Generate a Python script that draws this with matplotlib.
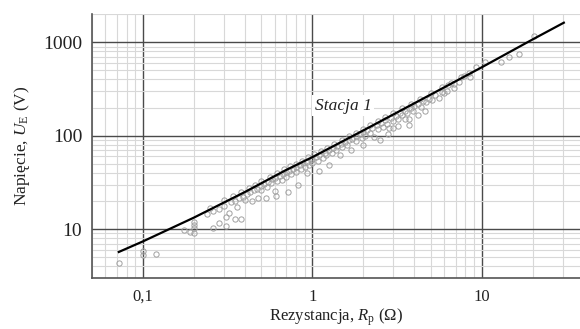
import matplotlib
matplotlib.use("Agg")
import matplotlib.pyplot as plt
from matplotlib.ticker import FixedLocator, FixedFormatter, LogLocator, NullFormatter

plt.rcParams['font.family'] = ['Liberation Serif', 'DejaVu Serif']
plt.rcParams['mathtext.fontset'] = 'custom'
plt.rcParams['mathtext.rm'] = 'Liberation Serif'
plt.rcParams['mathtext.it'] = 'Liberation Serif:italic'

# fitted line
line_r = [0.072, 0.1, 0.2, 0.4, 0.7, 1, 2, 5, 10, 20, 30.5]
line_u = [5.7, 7.4, 13.3, 25, 43, 59, 114, 276, 540, 1075, 1620]

# measurements (grey circles)
meas_r = [0.072, 0.1, 0.1, 0.12,
          0.175, 0.19, 0.2, 0.2, 0.2, 0.2,
          0.24, 0.26, 0.26, 0.28, 0.28, 0.3, 0.31, 0.31, 0.32, 0.33,
          0.35, 0.35, 0.36, 0.37, 0.38, 0.39, 0.4, 0.41,
          0.43, 0.44, 0.45, 0.47, 0.48, 0.5, 0.5, 0.52, 0.53, 0.54,
          0.55, 0.57, 0.58, 0.6, 0.6, 0.61, 0.62,
          0.64, 0.66, 0.67, 0.7, 0.7, 0.72, 0.73, 0.75, 0.77, 0.8,
          0.8, 0.82, 0.84, 0.86, 0.88, 0.9, 0.93, 0.93, 0.95, 0.98,
          1.0, 1.0,
          1.05, 1.08, 1.1, 1.1, 1.15, 1.18, 1.2, 1.25, 1.25, 1.3,
          1.33, 1.38, 1.4, 1.45, 1.48, 1.5, 1.55, 1.6, 1.65, 1.7,
          1.72, 1.8, 1.82, 1.9, 1.95, 2.0, 2.0,
          2.05, 2.1, 2.2, 2.25, 2.3, 2.4, 2.45, 2.5, 2.55, 2.6,
          2.7, 2.75, 2.8, 2.85, 2.9, 3.0, 3.0, 3.1, 3.2, 3.2,
          3.3, 3.4, 3.5, 3.5, 3.6, 3.7, 3.7, 3.8, 3.9, 4.0,
          4.2, 4.2, 4.4, 4.5, 4.6, 4.7, 4.9, 5.1, 5.3,
          5.6, 5.8, 6.0, 6.2, 6.3, 6.9, 6.9, 7.3, 7.9, 8.5,
          9.2, 10.5, 13.0, 14.4, 16.6, 20.4,
          0.25, 0.3, 0.34, 0.38, 0.42, 0.46, 0.5, 0.56, 0.62, 0.68,
          0.74, 0.8, 0.87, 0.94, 1.02, 1.12, 1.22, 1.35, 1.5, 1.65,
          1.8, 2.0, 2.2, 2.45, 2.7, 3.0, 3.4, 3.8, 4.3, 5.0,
          5.8, 6.6, 7.5, 8.4]
meas_u = [4.3, 5.3, 5.8, 5.4,
          9.8, 9.4, 9.0, 10.2, 11.0, 11.8,
          14.5, 10.4, 15.5, 11.7, 16.5, 17.8, 10.8, 13.5, 14.8, 19.5,
          12.8, 20.0, 17.1, 21.5, 12.8, 22.0, 20.5, 23.5,
          25.0, 20.0, 26.5, 27.0, 21.3, 29.0, 26.5, 30.5, 21.3, 28.0,
          32.0, 31.0, 34.0, 25.5, 35.0, 22.5, 33.0,
          37.5, 33.8, 38.5, 40.5, 36.0, 24.8, 42.0, 39.0, 44.5, 46.0,
          41.0, 30.0, 48.0, 44.0, 50.5, 46.5, 40.0, 52.5, 49.0, 55.0,
          56.5, 51.0,
          59.0, 54.0, 42.0, 62.0, 58.0, 66.0, 62.0, 48.0, 70.0, 66.0,
          74.0, 70.0, 78.0, 62.0, 82.0, 76.0, 86.0, 80.0, 90.0, 70.0,
          93.0, 88.0, 99.0, 104.0, 94.0, 80.0, 109.0,
          100.0, 116.0, 108.0, 122.0, 97.0, 130.0, 118.0, 90.0, 138.0, 125.0,
          148.0, 132.0, 105.0, 122.0, 155.0, 145.0, 122.0, 163.0, 127.0, 152.0,
          176.0, 165.0, 150.0, 186.0, 175.0, 131.0, 150.0, 198.0, 182.0, 210.0,
          168.0, 220.0, 205.0, 238.0, 182.0, 230.0, 250.0, 240.0, 270.0,
          255.0, 295.0, 290.0, 300.0, 345.0, 327.0, 355.0, 380.0, 440.0, 430.0,
          540.0, 612.0, 612.0, 690.0, 750.0, 1180.0,
          17.0, 20.3, 22.5, 25.0, 27.5, 30.0, 32.5, 36.0, 39.5, 43.5,
          47.0, 50.0, 54.0, 58.5, 63.0, 69.0, 74.0, 82.0, 90.0, 99.0,
          108.0, 119.0, 130.0, 144.0, 160.0, 176.0, 198.0, 220.0, 248.0, 285.0,
          330.0, 370.0, 420.0, 470.0]

x_ticks = [0.1, 1, 10]
x_labels = ["0,1", "1", "10"]
y_ticks = [10, 100, 1000]
y_labels = ["10", "100", "1000"]

fig = plt.figure(figsize=(5.8, 3.29), dpi=100)
ax = fig.add_axes([0.1586, 0.155, 0.8414, 0.802])

ax.plot(meas_r, meas_u, 'o', ms=3.8, mfc='none', mec='#a0a0a0', mew=0.7, zorder=3)
ax.plot(line_r, line_u, '-', color='black', lw=1.6, zorder=4)

ax.set_xscale('log')
ax.set_yscale('log')
ax.set_xlim(0.05, 38)
ax.set_ylim(3, 2000)

ax.xaxis.set_major_locator(FixedLocator(x_ticks))
ax.xaxis.set_major_formatter(FixedFormatter(x_labels))
ax.yaxis.set_major_locator(FixedLocator(y_ticks))
ax.yaxis.set_major_formatter(FixedFormatter(y_labels))
ax.xaxis.set_minor_locator(LogLocator(base=10, subs=range(2, 10)))
ax.yaxis.set_minor_locator(LogLocator(base=10, subs=range(2, 10)))
ax.xaxis.set_minor_formatter(NullFormatter())
ax.yaxis.set_minor_formatter(NullFormatter())

ax.grid(True, which='major', color='#4a4a4a', lw=1.0, zorder=1)
ax.grid(True, which='minor', color='#d8d8d8', lw=0.8, zorder=0)
ax.set_axisbelow(True)

ax.tick_params(which='both', length=0)
ax.tick_params(axis='x', labelsize=12, pad=8, colors='#222222')
ax.tick_params(axis='y', labelsize=14, pad=7, colors='#222222')

for s in ['top', 'right']:
    ax.spines[s].set_visible(False)
for s in ['left', 'bottom']:
    ax.spines[s].set_color('#555555')
    ax.spines[s].set_linewidth(1.2)

ax.set_xlabel(r"Rezystancja, $R_\mathrm{p}$ ($\Omega$)", fontsize=12, color='#222222', labelpad=1)
ax.set_ylabel(r"Napięcie, $U_\mathrm{E}$ (V)", fontsize=12.5, color='#222222', labelpad=8)

ax.text(1.03, 210, "Stacja 1", style='italic', fontsize=12.5, ha='left', va='center',
        color='#222222', zorder=5,
        bbox=dict(facecolor='white', edgecolor='none', pad=2))

fig.savefig("out.png", dpi=100)
